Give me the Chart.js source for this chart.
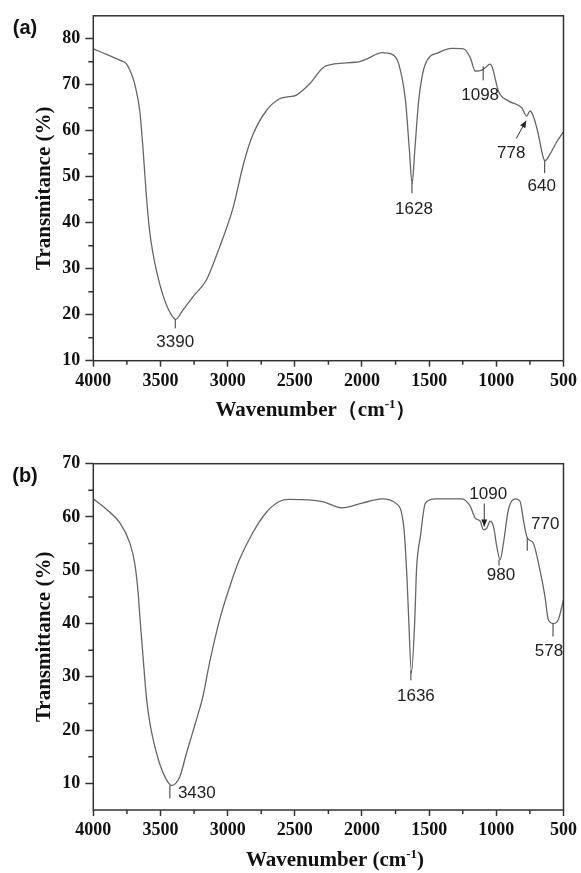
<!DOCTYPE html>
<html>
<head>
<meta charset="utf-8">
<script src="https://cdn.jsdelivr.net/npm/chart.js@4.4.0/dist/chart.umd.min.js"></script>
<style>
html, body { margin: 0; padding: 0; background: #fff; }
#wrapA { position: absolute; left: 0; top: 0; width: 581px; height: 420px; }
#wrapB { position: absolute; left: 0; top: 420px; width: 581px; height: 453px; }
</style>
</head>
<body>
<div id="wrapA"><canvas id="chartA"></canvas></div>
<div id="wrapB"><canvas id="chartB"></canvas></div>
<script>
// spectrum (a)
const waveA = [4000, 3900, 3800, 3752, 3710, 3691, 3654, 3629, 3604, 3580, 3555, 3530, 3481, 3431, 3387,
  3333, 3259, 3159, 3060, 2962, 2880, 2814, 2714, 2616, 2542, 2492, 2393, 2269, 2047, 1973, 1850,
  1775, 1726, 1676, 1647, 1627, 1607, 1578, 1528, 1429, 1330, 1244, 1194, 1157, 1108, 1083, 1046,
  1029, 984, 910, 811, 774, 749, 725, 688, 651, 638, 601, 552, 500];
const transA = [77.8, 76.6, 75.3, 74.5, 71.9, 70.1, 64.3, 55.7, 45.5, 38.0, 33.2, 29.6, 24.2, 20.6, 19.0,
  21.0, 23.9, 27.5, 34.7, 43.0, 53.0, 59.0, 64.3, 66.9, 67.4, 67.7, 70.1, 74.1, 74.9, 75.5, 77.0,
  76.6, 74.5, 66.5, 55.7, 48.5, 55.7, 66.5, 74.5, 77.0, 77.9, 77.8, 75.9, 73.0, 73.2, 73.7, 74.5,
  73.7, 68.6, 66.5, 65.0, 63.2, 64.3, 63.2, 59.3, 54.2, 53.5, 54.9, 57.5, 59.8];

// spectrum (b)
const waveB = [4000, 3901, 3802, 3728, 3691, 3666, 3654, 3629, 3604, 3580, 3555, 3505, 3456, 3419, 3357,
  3307, 3233, 3184, 3135, 3060, 2986, 2912, 2814, 2714, 2616, 2542, 2295, 2146, 2000, 1850, 1750,
  1689, 1664, 1652, 1632, 1607, 1594, 1565, 1528, 1454, 1256, 1194, 1157, 1120, 1096, 1071, 1046,
  1021, 997, 972, 947, 910, 860, 823, 799, 774, 756, 725, 676, 638, 613, 576, 539, 500];
const transB = [63.4, 61.4, 58.9, 55.1, 51.2, 45.7, 41.5, 33.5, 26.0, 21.5, 18.3, 13.6, 10.7, 9.6, 11.2,
  15.6, 21.9, 26.3, 32.6, 40.7, 46.8, 52.0, 57.0, 60.8, 62.9, 63.3, 62.9, 61.7, 62.6, 63.4, 62.6,
  58.2, 48.0, 40.7, 30.8, 40.7, 50.1, 56.4, 62.6, 63.4, 63.4, 62.0, 59.8, 59.2, 57.6, 57.9, 59.2,
  58.2, 54.5, 52.0, 55.1, 61.4, 63.4, 62.9, 59.5, 56.4, 55.7, 55.1, 50.1, 45.1, 40.7, 40.0, 40.7, 44.5];

// axes
const xTicks = [4000, 3500, 3000, 2500, 2000, 1500, 1000, 500];
const xMinor = [3750, 3250, 2750, 2250, 1750, 1250, 750];
const yTicksA = [10, 20, 30, 40, 50, 60, 70, 80];
const yMinorA = [15, 25, 35, 45, 55, 65, 75];
const yTicksB = [10, 20, 30, 40, 50, 60, 70];
const yMinorB = [15, 25, 35, 45, 55, 65];

// peak labels
const peakTextA = ['3390', '1628', '1098', '778', '640'];
const peakWaveA = [3390, 1628, 1098, 778, 640];
const peakTransA = [19.0, 48.6, 74.0, 62.2, 53.4];
const peakTextB = ['3430', '1636', '1090', '980', '770', '578'];
const peakWaveB = [3430, 1636, 1090, 980, 770, 578];
const peakTransB = [9.6, 31.2, 58.2, 52.0, 56.1, 40.0];

// how each label is marked (pixel offsets from the peak point)
const marksA = [
  { kind: 'tick', len: 9, dx: 0, dy: 23 },
  { kind: 'tick', len: 10, dx: 2, dy: 26 },
  { kind: 'tick', len: 14, dx: -3, dy: 29 },
  { kind: 'arrow', tx: -10, ty: 18, dx: -15, dy: 33 },
  { kind: 'tick', len: 12, dx: -3, dy: 25 }
];
const marksB = [
  { kind: 'tick', len: 13, dx: 8, dy: 8, align: 'left' },
  { kind: 'tick', len: 10, dx: 5, dy: 26 },
  { kind: 'arrow', tx: 0, ty: -23, dx: 4, dy: -32 },
  { kind: 'tick', len: 6, dx: 2, dy: 16 },
  { kind: 'tick', len: 13, dx: 18, dy: -13 },
  { kind: 'tick', len: 13, dx: -4, dy: 28 }
];

const serif = '"Liberation Serif", "Times New Roman", serif';
const sans = '"Liberation Sans", Arial, sans-serif';
const axisColor = '#333';

function peaksPlugin(texts, waves, trans, marks) {
  return {
    id: 'peaks',
    afterDatasetsDraw(chart) {
      const { ctx, scales: { x, y } } = chart;
      ctx.save();
      ctx.strokeStyle = '#333';
      ctx.fillStyle = '#222';
      ctx.lineWidth = 1;
      ctx.font = '17px ' + sans;
      ctx.textBaseline = 'middle';
      texts.forEach((t, i) => {
        const m = marks[i];
        const px = x.getPixelForValue(waves[i]);
        const py = y.getPixelForValue(trans[i]);
        if (m.kind === 'tick') {
          ctx.beginPath();
          ctx.moveTo(px, py);
          ctx.lineTo(px, py + m.len);
          ctx.stroke();
        } else {
          const sx = px + m.tx, sy = py + m.ty;
          const ang = Math.atan2(py - sy, px - sx);
          ctx.beginPath();
          ctx.moveTo(sx, sy);
          ctx.lineTo(px, py);
          ctx.stroke();
          ctx.beginPath();
          ctx.moveTo(px, py);
          ctx.lineTo(px - 7 * Math.cos(ang) + 3 * Math.sin(ang), py - 7 * Math.sin(ang) - 3 * Math.cos(ang));
          ctx.lineTo(px - 7 * Math.cos(ang) - 3 * Math.sin(ang), py - 7 * Math.sin(ang) + 3 * Math.cos(ang));
          ctx.closePath();
          ctx.fill();
        }
        ctx.textAlign = m.align || 'center';
        ctx.fillText(t, px + m.dx, py + m.dy);
      });
      ctx.restore();
    }
  };
}

function framePlugin(panel, xMinorTicks, yMinorTicks, titleParts, titleX, titleY) {
  return {
    id: 'frame',
    afterDraw(chart) {
      const { ctx, chartArea: a, scales: { x, y } } = chart;
      ctx.save();
      ctx.strokeStyle = axisColor;
      ctx.lineWidth = 1.5;
      ctx.strokeRect(a.left, a.top, a.right - a.left, a.bottom - a.top);
      // minor ticks
      ctx.beginPath();
      xMinorTicks.forEach(v => {
        const px = x.getPixelForValue(v);
        ctx.moveTo(px, a.bottom);
        ctx.lineTo(px, a.bottom + 4);
      });
      yMinorTicks.forEach(v => {
        const py = y.getPixelForValue(v);
        ctx.moveTo(a.left, py);
        ctx.lineTo(a.left - 5, py);
      });
      ctx.stroke();
      // panel letter
      ctx.fillStyle = '#111';
      ctx.font = 'bold 20px ' + sans;
      ctx.textAlign = 'center';
      ctx.textBaseline = 'middle';
      ctx.fillText(panel, 25, a.top + 13);
      // x axis title with superscript
      const big = 'bold 21px ' + serif, small = 'bold 13px ' + serif;
      ctx.font = big;
      const w0 = ctx.measureText(titleParts[0]).width;
      const w2 = ctx.measureText(titleParts[2]).width;
      ctx.font = small;
      const w1 = ctx.measureText(titleParts[1]).width;
      let cx = titleX - (w0 + w1 + w2) / 2;
      ctx.textAlign = 'left';
      ctx.textBaseline = 'alphabetic';
      ctx.font = big;
      ctx.fillText(titleParts[0], cx, titleY);
      cx += w0;
      ctx.font = small;
      ctx.fillText(titleParts[1], cx, titleY - 8);
      cx += w1;
      ctx.font = big;
      ctx.fillText(titleParts[2], cx, titleY);
      ctx.restore();
    }
  };
}

function makeChart(id, waves, trans, yMin, yMax, yTicks, yTitle, padTop, xHeight, plugins) {
  const tickFont = { family: serif, size: 18, weight: 'bold' };
  return new Chart(document.getElementById(id), {
    type: 'line',
    data: {
      datasets: [{
        data: waves.map((w, i) => ({ x: w, y: trans[i] })),
        borderColor: '#666',
        borderWidth: 1.3,
        pointRadius: 0,
        cubicInterpolationMode: 'monotone',
        fill: false
      }]
    },
    options: {
      responsive: true,
      maintainAspectRatio: false,
      animation: false,
      layout: { padding: { top: padTop, right: 15.7, left: 0, bottom: 0 } },
      plugins: { legend: { display: false }, tooltip: { enabled: false } },
      scales: {
        x: {
          type: 'linear',
          reverse: true,
          min: 500,
          max: 4000,
          afterBuildTicks: s => { s.ticks = xTicks.map(v => ({ value: v })); },
          afterFit: s => { s.height = xHeight; },
          ticks: { font: tickFont, color: '#111', padding: 4, maxRotation: 0, autoSkip: false, callback: v => String(v) },
          grid: { drawOnChartArea: false, tickLength: 6, tickColor: axisColor, tickWidth: 1.5 },
          border: { display: false }
        },
        y: {
          min: yMin,
          max: yMax,
          afterBuildTicks: s => { s.ticks = yTicks.map(v => ({ value: v })); },
          afterFit: s => { s.width = 93.3; },
          ticks: { font: tickFont, color: '#111', padding: 5, callback: v => String(v) },
          grid: { drawOnChartArea: false, tickLength: 8, tickColor: axisColor, tickWidth: 1.5 },
          border: { display: false },
          title: {
            display: true,
            text: yTitle,
            color: '#111',
            font: { family: serif, size: 21, weight: 'bold' },
            padding: { top: 32, bottom: 0 }
          }
        }
      }
    },
    plugins: plugins
  });
}

makeChart('chartA', waveA, transA, 10, 85, yTicksA, 'Transmitance (%)', 14.5, 59.3, [
  peaksPlugin(peakTextA, peakWaveA, peakTransA, marksA),
  framePlugin('(a)', xMinor, yMinorA, ['Wavenumber\uFF08cm', '-1', '\uFF09'], 316, 416)
]);

makeChart('chartB', waveB, transB, 5, 70, yTicksB, 'Transmittance (%)', 43.7, 63, [
  peaksPlugin(peakTextB, peakWaveB, peakTransB, marksB),
  framePlugin('(b)', xMinor, yMinorB, ['Wavenumber (cm', '-1', ')'], 335, 446)
]);
</script>
</body>
</html>
